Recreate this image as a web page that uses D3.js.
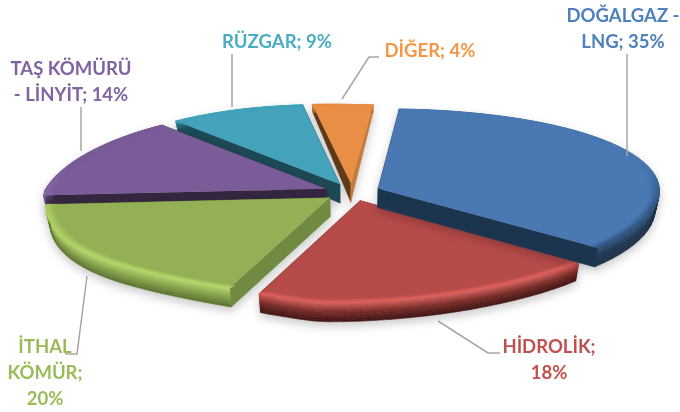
<!DOCTYPE html>
<html>
<head>
<meta charset="utf-8">
<script src="https://cdn.jsdelivr.net/npm/d3@7"></script>
<style>
    html, body { margin: 0; padding: 0; background: #fff; }
    svg { filter: blur(0.35px); }
    text { font-family: Lato, "Open Sans", sans-serif; font-weight: 700; font-size: 18.5px; }
</style>
</head>
<body>
<div id="chart"></div>
<script>
    var categories = ["DOĞALGAZ - LNG", "HİDROLİK", "İTHAL KÖMÜR", "TAŞ KÖMÜRÜ - LİNYİT", "RÜZGAR", "DİĞER"];
    var values = [35, 18, 20, 14, 9, 4];
    var wordsPerLine = [[2, 2], [1, 1], [1, 1, 1], [2, 3], [3], [3]];

    var textColors = ["#4f81bd", "#c0504d", "#9bbb59", "#8064a2", "#4bacc6", "#f79646"];
    var topColors = ["#4a78b3", "#b64c48", "#93b055", "#7a5c98", "#44a2bb", "#e98e45"];
    var bevelColors = ["#2f5078", "#dc625e", "#b2d568", "#8e70ae", "#4eb0ca", "#f09a52"];
    var sideColors = [
        ["#2f5078", "#1f3450", "#1c3049"],
        ["#dc625e", "#7a2c2a", "#3f1412"],
        ["#b8da70", "#86a44a", "#5b7231"],
        ["#8e70ae", "#4d3a63", "#34263f"],
        ["#44a2bb", "#2b6a7a", "#1f4a55"],
        ["#e98e45", "#c47b3c", "#a5652e"]
    ];
    var startFaceColors = ["#1e3450", "#7a2c2a", "#6f8a42", "#34263f", "#1f4a55", "#5f3a17"];
    var endFaceColors = ["#1e3450", "#7a2c2a", "#6f8a42", "#34263f", "#1f4a55", "#c47b3c"];
    var drawOrder = [5, 4, 3, 1, 2, 0];

    // label centre x, first baseline y, leader polyline
    var labelLayout = [
        {x: 623, y: 22, leader: [[627, 54], [627, 156]]},
        {x: 549, y: 353, leader: [[438, 321], [488, 353], [500, 353]]},
        {x: 45, y: 353, leader: [[87, 276], [77, 354], [65, 354]]},
        {x: 71, y: 75, leader: [[81, 107], [81, 151]]},
        {x: 277, y: 48, leader: [[232, 54], [232, 107]]},
        {x: 430, y: 57, leader: [[379, 57], [369, 57], [342, 99]]}
    ];

    var WIDTH = 680, HEIGHT = 412;
    var CENTER_X = 352, CENTER_Y = 192;
    var RADIUS_X = 282, RADIUS_Y = 89;
    var PERSPECTIVE = 0.11;
    var SHEAR = -0.03;
    var EXPLODE = 0.1;
    var BEVEL = 0.035;
    var START_DEG = 3;
    var ARC_STEP = Math.PI / 60;
    var BANDS = 12;

    var xScale = d3.scaleLinear().domain([-1, 1]).range([CENTER_X - RADIUS_X, CENTER_X + RADIUS_X]);
    var yScale = d3.scaleLinear().domain([-1, 1]).range([CENTER_Y - RADIUS_Y, CENTER_Y + RADIUS_Y]);
    var line = d3.line();

    // the original's 3d view is not a clean perspective: back left is pinched, front left is pulled in
    function project(u, v, h){
        var s = 1 / (1 - PERSPECTIVE * v);
        var depth = 19 + 11 * Math.min(0, v + 0.1);
        var front = Math.pow(Math.max(0, v), 4);
        var widen = (v < 0 && u < 0) ? Math.pow(s, 1.5) : Math.sqrt(s);
        var x = (u * widen + SHEAR * v - 0.06 * front) * (1 - 0.015 * h);
        var lift = 0;
        if(u < 0) lift = v > 0 ? 22 * -u * front : 8 * u * v;
        return [xScale(x), yScale(v * s) - lift + h * depth];
    }

    // point of a slice at radius r and angle a, at height h (0 top, 1 bottom)
    function slicePoint(d, r, a, h){
        var mid = (d.startAngle + d.endAngle) / 2;
        var u = EXPLODE * Math.sin(mid) + r * Math.sin(a);
        var v = -EXPLODE * Math.cos(mid) - r * Math.cos(a);
        return project(u, v, h);
    }

    function arcAngles(d){
        var out = d3.range(d.startAngle, d.endAngle, ARC_STEP);
        out.push(d.endAngle);
        return out;
    }

    function quad(d, r0, a0, h0, r1, a1, h1){
        return line([
            slicePoint(d, r0, a0, h0), slicePoint(d, r0, a1, h0),
            slicePoint(d, r1, a1, h1), slicePoint(d, r1, a0, h1)
        ]) + "Z";
    }

    var pie = d3.pie().sort(null).startAngle(START_DEG * Math.PI / 180).endAngle((START_DEG + 360) * Math.PI / 180);
    var slices = pie(values);

    var svg = d3.select("#chart").append("svg").attr("width", WIDTH).attr("height", HEIGHT);

    var shadow = svg.append("defs").append("filter").attr("id", "shadow")
        .attr("x", "-10%").attr("y", "-20%").attr("width", "120%").attr("height", "150%");
    shadow.append("feDropShadow").attr("dx", 0).attr("dy", 4).attr("stdDeviation", 5)
        .attr("flood-color", "#000").attr("flood-opacity", 0.22);

    drawOrder.forEach(function(i){
        var d = slices[i];
        var g = svg.append("g").attr("class", "slice").attr("filter", "url(#shadow)");
        var angles = arcAngles(d);

        // cut faces
        [[d.startAngle, startFaceColors[i]], [d.endAngle, endFaceColors[i]]].forEach(function(f){
            var a = slicePoint(d, 0, f[0], 0), b = slicePoint(d, 1, f[0], 0);
            var c = slicePoint(d, 1, f[0], 1), e = slicePoint(d, 0, f[0], 1);
            g.append("path").attr("d", line([a, b, c, e]) + "Z").attr("fill", f[1]).attr("stroke", f[1]).attr("stroke-width", 0.5);
        });

        // outer wall
        var sideColor = d3.scaleLinear().domain([0, 0.5, 1]).range(sideColors[i]);
        d3.range(BANDS).forEach(function(b){
            var col = sideColor((b + 0.5) / BANDS);
            d3.pairs(angles).forEach(function(p){
                g.append("path")
                    .attr("d", quad(d, 1, p[0], b / BANDS, 1, p[1], (b + 1) / BANDS))
                    .attr("fill", col).attr("stroke", col).attr("stroke-width", 0.6);
            });
        });

        // flat top
        var outline = [slicePoint(d, 0, 0, 0)].concat(angles.map(function(a){ return slicePoint(d, 1, a, 0); }));
        g.append("path").attr("d", line(outline) + "Z").attr("fill", topColors[i]);

        // bevel, only shows towards the viewer and the sides
        d3.range(BANDS).forEach(function(b){
            d3.pairs(angles).forEach(function(p){
                var mid = (p[0] + p[1]) / 2;
                var facing = Math.max(0, Math.min(1, (-Math.cos(mid) + 0.3) / 0.5));
                var col = d3.interpolateRgb(topColors[i], bevelColors[i])(facing * (b + 1) / BANDS);
                var r0 = 1 - BEVEL * (1 - b / BANDS), r1 = 1 - BEVEL * (1 - (b + 1) / BANDS);
                g.append("path").attr("d", quad(d, r0, p[0], 0, r1, p[1], 0))
                    .attr("fill", col).attr("stroke", col).attr("stroke-width", 0.4);
            });
        });
    });

    // leaders and labels
    labelLayout.forEach(function(l, i){
        svg.append("path").attr("d", line(l.leader)).attr("fill", "none")
            .attr("stroke", "#a6a6a6").attr("stroke-width", 1.5);

        var words = (categories[i] + "; " + values[i] + "%").split(" ");
        var pos = 0;
        var text = svg.append("text").attr("text-anchor", "middle").attr("fill", textColors[i]);
        wordsPerLine[i].forEach(function(n, k){
            text.append("tspan").attr("x", l.x).attr("y", l.y + k * 26)
                .text(words.slice(pos, pos + n).join(" "));
            pos += n;
        });
    });
</script>
</body>
</html>
